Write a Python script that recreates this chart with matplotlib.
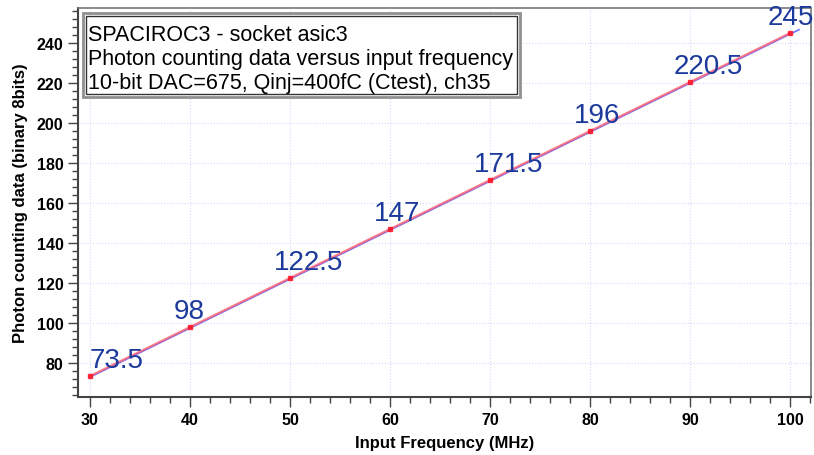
import numpy as np
import matplotlib.pyplot as plt
from matplotlib.ticker import MultipleLocator

plt.rcParams['font.family'] = ['Liberation Sans', 'DejaVu Sans']

# data
freq_mhz = [30, 40, 50, 60, 70, 80, 90, 100]
counts = [73.5, 98, 122.5, 147, 171.5, 196, 220.5, 245]
point_labels = ['73.5', '98', '122.5', '147', '171.5', '196', '220.5', '245']
info_lines = ['SPACIROC3 - socket asic3',
              'Photon counting data versus input frequency',
              '10-bit DAC=675, Qinj=400fC (Ctest), ch35']

fig = plt.figure(figsize=(8.14, 4.56), dpi=100)
ax = fig.add_axes([0.0958, 0.127, 0.9005, 0.853])

# linear fit drawn under the data
slope, icpt = np.polyfit(freq_mhz, counts, 1)
xf = np.array([freq_mhz[0], freq_mhz[-1] + 0.9])
ax.plot(xf, slope * xf + icpt - 0.5, color='#7070ff', lw=1.2, zorder=3)
ax.plot(freq_mhz, counts, color='#ff6070', lw=1.6, alpha=0.8, zorder=4,
        marker='s', ms=3, mfc='#ff1020', mec='#ff1020')

for i, (x, y, lab) in enumerate(zip(freq_mhz, counts, point_labels)):
    dx = 0 if i == 0 else (-22 if i == len(freq_mhz) - 1 else -16)
    ax.annotate(lab, (x, y), xytext=(dx, 9), textcoords='offset pixels',
                ha='left', va='baseline', fontsize=20, color='#1c3a9c',
                zorder=5)

ax.set_xlim(28.8, 102.1)
ax.set_ylim(63, 257.5)
ax.xaxis.set_major_locator(MultipleLocator(10))
ax.xaxis.set_minor_locator(MultipleLocator(2))
ax.yaxis.set_major_locator(MultipleLocator(20))
ax.yaxis.set_minor_locator(MultipleLocator(4))
ax.tick_params(which='major', length=7, width=1, color='#444444',
               labelsize=11.5, direction='out')
ax.tick_params(which='minor', length=4, width=1, color='#444444', direction='out')
for t in ax.get_xticklabels() + ax.get_yticklabels():
    t.set_fontweight('bold')
ax.grid(True, which='major', color='#d8d8ff', lw=0.8, ls=':')

for side in ['left', 'bottom']:
    ax.spines[side].set_color('#444444')
    ax.spines[side].set_linewidth(1.5)
for side in ['top', 'right']:
    ax.spines[side].set_color('#777777')
    ax.spines[side].set_linewidth(1.2)

ax.set_xlabel('Input Frequency (MHz)', fontsize=12, fontweight='bold', labelpad=6)
ax.set_ylabel('Photon counting data (binary 8bits)', fontsize=12,
              fontweight='bold', labelpad=6)

# info box with double border
ax.add_patch(plt.Rectangle((0.0068, 0.771), 0.596, 0.216, transform=ax.transAxes,
                           fc='white', ec='#909090', lw=2.0, zorder=6))
ax.add_patch(plt.Rectangle((0.0105, 0.778), 0.589, 0.202, transform=ax.transAxes,
                           fill=False, ec='#333333', lw=1, zorder=6))
ax.text(0.0136, 0.96, '\n'.join(info_lines), transform=ax.transAxes,
        ha='left', va='top', fontsize=15.5, color='black', linespacing=1.2,
        zorder=7)

fig.savefig('out.png', dpi=100)
